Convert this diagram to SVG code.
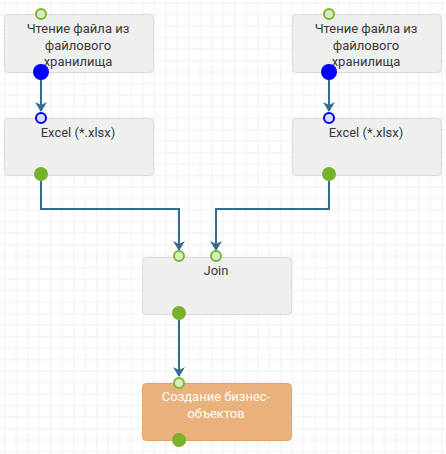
<svg xmlns="http://www.w3.org/2000/svg" width="446" height="454" viewBox="0 0 446 454">
<defs>
<pattern id="grid" x="4" y="2.3" width="11.5" height="11.5" patternUnits="userSpaceOnUse">
<path d="M0.75 0V11.5M0 0.75H11.5" stroke="#f4f4f4" stroke-width="1.5" fill="none"/>
</pattern>
<marker id="arr" viewBox="0 0 10 12" refX="9" refY="6" markerWidth="10" markerHeight="12" markerUnits="userSpaceOnUse" orient="auto">
<path d="M0 0L10 6L0 12L3 6Z" fill="#336d8e"/>
</marker>
<style>
.node{fill:#efefef;stroke:#dadada;stroke-width:1}
.orange{fill:#e9b17b;stroke:#e2a36b;stroke-width:1}
.t{font-family:Roboto,"Liberation Sans",sans-serif;font-size:13px;fill:#3a3a3a;text-anchor:middle}
.tw{fill:#ffffff}
.in{fill:#d6ecc2;stroke:#7bb62f;stroke-width:2}
.out{fill:#78b22b}
.bout{fill:#0000ff}
.bin{fill:#dcdcf6;stroke:#0000ff;stroke-width:2}
.c{fill:none;stroke:#336d8e;stroke-width:2;marker-end:url(#arr)}
</style>
</defs>
<rect width="446" height="454" fill="#ffffff"/>
<rect width="446" height="454" fill="url(#grid)"/>
<g id="connectors">
<path class="c" d="M41 80V111"/>
<path class="c" d="M329 80V111"/>
<path class="c" d="M41 181V209H179V250"/>
<path class="c" d="M329 181V209H216V250"/>
<path class="c" d="M179 320V376"/>
</g>
<g id="read1">
<rect class="node" x="4.5" y="14.5" width="149" height="58" rx="4"/>
<text class="t" x="78" y="33">Чтение файла из</text>
<text class="t" x="78" y="50">файлового</text>
<text class="t" x="78" y="66">хранилища</text>
<circle class="in" cx="41" cy="14" r="5"/>
<circle class="bout" cx="41" cy="72" r="8"/>
</g>
<g id="read2">
<rect class="node" x="292.5" y="14.5" width="149" height="58" rx="4"/>
<text class="t" x="366" y="33">Чтение файла из</text>
<text class="t" x="366" y="50">файлового</text>
<text class="t" x="366" y="66">хранилища</text>
<circle class="in" cx="329" cy="14" r="5"/>
<circle class="bout" cx="329" cy="72" r="8"/>
</g>
<g id="excel1">
<rect class="node" x="4.5" y="118.5" width="149" height="57" rx="4"/>
<text class="t" x="78" y="137">Excel (*.xlsx)</text>
<circle class="bin" cx="41" cy="118" r="5"/>
<circle class="out" cx="41" cy="174" r="7"/>
</g>
<g id="excel2">
<rect class="node" x="292.5" y="118.5" width="149" height="57" rx="4"/>
<text class="t" x="366" y="137">Excel (*.xlsx)</text>
<circle class="bin" cx="329" cy="118" r="5"/>
<circle class="out" cx="329" cy="174" r="7"/>
</g>
<g id="join">
<rect class="node" x="142.5" y="257.5" width="149" height="57" rx="4"/>
<text class="t" x="216" y="275">Join</text>
<circle class="in" cx="179" cy="256" r="5"/>
<circle class="in" cx="216" cy="256" r="5"/>
<circle class="out" cx="179" cy="313" r="7"/>
</g>
<g id="create">
<rect class="orange" x="142.5" y="383.5" width="149" height="57" rx="4"/>
<text class="t tw" x="216" y="401">Создание бизнес-</text>
<text class="t tw" x="216" y="418">объектов</text>
<circle class="in" cx="179" cy="383" r="5"/>
<circle class="out" cx="179" cy="440" r="7"/>
</g>
</svg>
